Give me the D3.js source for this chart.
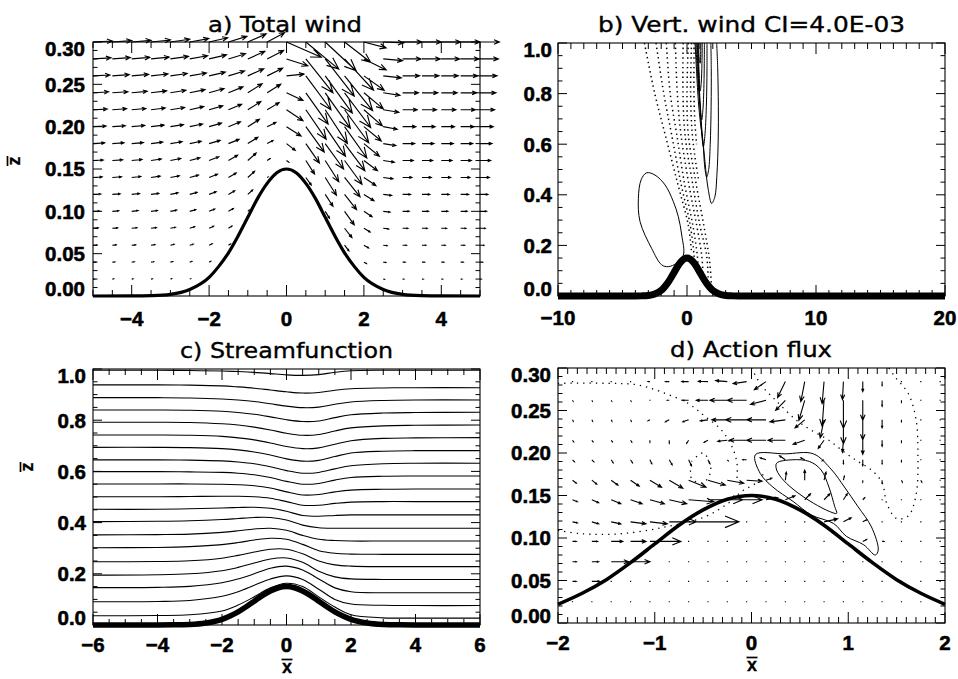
<!DOCTYPE html>
<html><head><meta charset="utf-8">
<script src="https://cdn.jsdelivr.net/npm/d3@7/dist/d3.min.js"></script>
<style>
html,body{margin:0;padding:0;background:#fff;}
svg{display:block;}
.tl{font-family:"Liberation Sans",Arial,sans-serif;font-weight:bold;font-size:20.5px;fill:#000;stroke:#000;stroke-width:0.55px;}
.tt{font-family:"DejaVu Sans",sans-serif;font-size:21px;fill:#000;stroke:#000;stroke-width:0.35px;}
.al{font-family:"Liberation Sans",Arial,sans-serif;font-weight:bold;font-size:18px;fill:#000;stroke:#000;stroke-width:0.3px;}
</style></head><body>
<svg id="fig" width="958" height="679"></svg>
<script>
// ---------------- DATA ----------------
// terrain profile (x, height)
const terrainX = [-20,-10,-6,-5,-4,-3.5,-3,-2.5,-2,-1.75,-1.5,-1.25,-1,-0.75,-0.5,-0.25,0,0.25,0.5,0.75,1,1.25,1.5,1.75,2,2.5,3,3.5,4,5,6,10,20];
const terrainZ = [0,0,0,0,0.0001,0.0005,0.002,0.0077,0.022,0.035,0.051,0.071,0.093,0.115,0.133,0.1456,0.15,0.1456,0.133,0.115,0.093,0.071,0.051,0.035,0.022,0.0077,0.002,0.0005,0.0001,0,0,0,0];

// panel a: total wind vectors (u in units of column spacing, w in units of row spacing)
const aColX = [-5,-4.5,-4,-3.5,-3,-2.5,-2,-1.5,-1,-0.5,0,0.5,1,1.5,2,2.5,3,3.5,4,4.5,5];
const aRowZ = [0.30,0.28,0.26,0.24,0.22,0.20,0.18,0.16,0.14,0.12,0.10,0.08,0.06,0.04,0.02];
const aU = [
 [1.00,1.00,1.00,1.00,1.00,0.98,0.96,0.95,0.95,0.90,1.80,1.70,1.60,1.35,1.15,1.05,1.00,1.00,1.00,1.00,1.00],
 [0.93,0.93,0.93,0.93,0.93,0.92,0.90,0.88,0.88,0.85,1.10,1.40,1.50,1.50,1.15,1.00,0.95,0.95,0.95,0.95,0.95],
 [0.87,0.87,0.87,0.87,0.87,0.86,0.84,0.83,0.82,0.80,0.90,1.30,1.40,1.45,1.05,0.93,0.88,0.88,0.88,0.88,0.88],
 [0.80,0.80,0.80,0.80,0.80,0.79,0.77,0.75,0.74,0.70,0.85,1.15,1.30,1.35,1.00,0.86,0.82,0.82,0.82,0.82,0.82],
 [0.73,0.73,0.73,0.73,0.73,0.72,0.70,0.68,0.67,0.62,0.85,1.05,1.15,1.25,0.95,0.80,0.75,0.75,0.75,0.75,0.75],
 [0.67,0.67,0.67,0.67,0.67,0.66,0.64,0.62,0.60,0.45,0.75,0.95,1.05,1.15,0.90,0.72,0.68,0.68,0.68,0.68,0.68],
 [0.60,0.60,0.60,0.60,0.60,0.59,0.57,0.55,0.52,0.30,0.45,0.70,0.95,1.05,0.80,0.65,0.62,0.62,0.62,0.62,0.62],
 [0.53,0.53,0.53,0.53,0.53,0.52,0.50,0.47,0.43,0.15,0.12,0.45,0.70,0.90,0.70,0.57,0.55,0.55,0.55,0.55,0.55],
 [0.47,0.47,0.47,0.47,0.46,0.45,0.43,0.40,0.35,0.05,null,0.28,0.58,0.80,0.62,0.50,0.48,0.48,0.48,0.48,0.48],
 [0.40,0.40,0.40,0.40,0.39,0.38,0.36,0.32,0.25,null,null,null,0.40,0.62,0.52,0.43,0.41,0.41,0.41,0.41,0.41],
 [0.33,0.33,0.33,0.33,0.32,0.31,0.29,0.25,0.08,null,null,null,0.22,0.50,0.42,0.35,0.34,0.34,0.34,0.34,0.34],
 [0.27,0.27,0.27,0.27,0.26,0.25,0.23,0.18,null,null,null,null,null,0.38,0.32,0.28,0.27,0.27,0.27,0.27,0.27],
 [0.20,0.20,0.20,0.20,0.19,0.18,0.16,0.10,null,null,null,null,null,0.22,0.24,0.20,0.20,0.20,0.20,0.20,0.20],
 [0.13,0.13,0.13,0.13,0.12,0.11,0.09,null,null,null,null,null,null,null,0.13,0.13,0.13,0.13,0.13,0.13,0.13],
 [0.07,0.07,0.07,0.07,0.06,0.05,null,null,null,null,null,null,null,null,null,0.06,0.07,0.07,0.07,0.07,0.07]
];
const aW = [
 [0.06,0.08,0.10,0.12,0.16,0.20,0.25,0.33,0.48,0.55,-0.90,-1.60,-1.70,-1.20,-0.35,-0.05,0,0,0,0,0],
 [0.06,0.08,0.09,0.11,0.15,0.19,0.24,0.31,0.45,0.50,-0.40,-2.00,-2.20,-1.85,-0.65,-0.10,0,0,0,0,0],
 [0.05,0.07,0.09,0.11,0.14,0.17,0.22,0.29,0.42,0.45,0.10,-2.00,-2.20,-2.05,-0.85,-0.12,0,0,0,0,0],
 [0.05,0.06,0.08,0.11,0.15,0.19,0.25,0.35,0.53,0.50,-0.45,-1.85,-2.10,-2.05,-0.95,-0.15,0,0,0,0,0],
 [0.04,0.06,0.07,0.10,0.13,0.18,0.23,0.32,0.48,0.42,-0.65,-1.75,-2.00,-1.95,-0.95,-0.15,0,0,0,0,0],
 [0.04,0.05,0.07,0.09,0.12,0.16,0.21,0.29,0.43,0.25,-0.55,-1.50,-1.75,-1.85,-0.85,-0.15,0,0,0,0,0],
 [0.04,0.05,0.06,0.09,0.11,0.14,0.19,0.25,0.37,0.18,-0.40,-1.15,-1.50,-1.60,-0.75,-0.12,0,0,0,0,0],
 [0.03,0.04,0.06,0.09,0.12,0.16,0.22,0.31,0.44,0.12,-0.10,-0.80,-1.25,-1.40,-0.60,-0.10,0,0,0,0,0],
 [0.03,0.04,0.06,0.08,0.10,0.14,0.19,0.26,0.36,0.03,null,-0.45,-1.05,-1.15,-0.48,-0.08,0,0,0,0,0],
 [0.02,0.03,0.05,0.06,0.09,0.12,0.16,0.21,0.26,null,null,null,-0.70,-0.90,-0.37,-0.06,0,0,0,0,0],
 [0.02,0.03,0.04,0.05,0.07,0.10,0.13,0.17,0.08,null,null,null,-0.40,-0.80,-0.32,-0.05,0,0,0,0,0],
 [0.02,0.02,0.03,0.04,0.06,0.09,0.12,0.13,null,null,null,null,null,-0.55,-0.22,-0.04,0,0,0,0,0],
 [0.01,0.02,0.02,0.03,0.05,0.06,0.09,0.07,null,null,null,null,null,-0.33,-0.16,-0.03,0,0,0,0,0],
 [0.01,0.01,0.02,0.02,0.03,0.04,0.05,null,null,null,null,null,null,null,-0.08,-0.02,0,0,0,0,0],
 [0,0.01,0.01,0.01,0.02,0.02,null,null,null,null,null,null,null,null,null,-0.01,0,0,0,0,0]
];

// panel b: vertical wind contours (x, z)
const bSolid = [
 [[-3.13,0.487],[-2.48,0.478],[-1.7,0.439],[-1.06,0.373],[-0.67,0.313],[-0.41,0.241],[-0.28,0.162],[-0.8,0.13],[-1.45,0.116],[-1.96,0.123],[-2.74,0.188],[-3.64,0.294],[-3.77,0.386],[-3.55,0.46]]
];
const bSolidOpen = [
 [[0.62,1.0],[0.75,0.88],[0.88,0.77],[1.05,0.68],[1.26,0.6],[1.45,0.5],[1.65,0.42],[1.91,0.366],[2.15,0.39],[2.32,0.48],[2.42,0.62],[2.43,0.75],[2.38,0.9],[2.3,1.0]],
 [[0.68,1.0],[0.85,0.85],[1.05,0.72],[1.25,0.6],[1.4,0.5],[1.53,0.47],[1.68,0.5],[1.8,0.6],[1.87,0.75],[1.88,0.9],[1.85,1.0]],
 [[0.75,1.0],[0.9,0.85],[1.05,0.72],[1.18,0.62],[1.27,0.59],[1.38,0.63],[1.5,0.75],[1.55,0.9],[1.55,1.0]],
 [[0.8,1.0],[0.93,0.85],[1.05,0.74],[1.14,0.696],[1.24,0.74],[1.32,0.85],[1.35,1.0]],
 [[0.85,1.0],[0.95,0.87],[1.02,0.81],[1.1,0.84],[1.16,0.92],[1.18,1.0]],
 [[0.9,1.0],[0.96,0.93],[1.02,0.92],[1.06,0.96],[1.07,1.0]]
];
const bDotted = [
 [[-3.3,1.0],[-2.5,0.8],[-1.7,0.64],[-0.7,0.44],[0.1,0.28],[0.36,0.17]],
 [[-2.4,1.0],[-1.8,0.8],[-1.2,0.64],[-0.45,0.44],[0.25,0.28],[0.55,0.16],[0.6,0.12]],
 [[-1.6,1.0],[-1.3,0.8],[-0.8,0.64],[-0.18,0.44],[0.45,0.28],[0.8,0.16],[0.88,0.1]],
 [[-0.9,1.0],[-0.75,0.8],[-0.47,0.64],[0.15,0.44],[0.75,0.28],[1.14,0.16],[1.25,0.08]],
 [[-0.3,1.0],[-0.31,0.8],[-0.16,0.64],[0.45,0.44],[1.0,0.28],[1.52,0.16],[1.65,0.06]],
 [[0.1,1.0],[0.0,0.8],[0.1,0.64],[0.72,0.44],[1.3,0.28],[1.75,0.14],[1.91,0.02]],
 [[0.35,1.0],[0.28,0.8],[0.41,0.64],[0.7,0.52],[0.9,0.46]],
 [[0.55,1.0],[0.54,0.8],[0.62,0.68],[0.75,0.6]]
];

// panel c: streamlines, heights at cX
const cX = [-6,-4,-3,-2,-1.5,-1,-0.5,0,0.5,1,1.5,2,3,4,6];
const cLines = [
 [0.036,0.037,0.04,0.055,0.078,0.11,0.145,0.163,0.15,0.11,0.07,0.04,0.028,0.027,0.027],
 [0.091,0.092,0.096,0.112,0.13,0.155,0.18,0.192,0.178,0.14,0.1,0.082,0.077,0.076,0.076],
 [0.146,0.147,0.151,0.165,0.18,0.2,0.222,0.23,0.215,0.18,0.145,0.13,0.126,0.126,0.126],
 [0.195,0.196,0.2,0.212,0.225,0.242,0.258,0.262,0.245,0.21,0.188,0.18,0.178,0.178,0.178],
 [0.247,0.248,0.251,0.261,0.272,0.285,0.296,0.296,0.278,0.25,0.235,0.23,0.228,0.228,0.228],
 [0.302,0.303,0.306,0.314,0.322,0.332,0.339,0.335,0.315,0.29,0.28,0.277,0.276,0.276,0.276],
 [0.352,0.353,0.355,0.362,0.368,0.375,0.378,0.37,0.35,0.335,0.33,0.328,0.328,0.328,0.328],
 [0.404,0.405,0.407,0.412,0.416,0.42,0.42,0.41,0.39,0.38,0.378,0.378,0.378,0.378,0.378],
 [0.452,0.452,0.454,0.457,0.459,0.46,0.456,0.444,0.428,0.425,0.428,0.43,0.43,0.43,0.43],
 [0.501,0.501,0.502,0.503,0.503,0.501,0.495,0.482,0.468,0.468,0.475,0.48,0.482,0.482,0.482],
 [0.551,0.551,0.551,0.55,0.548,0.544,0.535,0.52,0.508,0.51,0.52,0.527,0.53,0.531,0.531],
 [0.599,0.599,0.598,0.596,0.593,0.587,0.576,0.561,0.55,0.553,0.566,0.576,0.581,0.582,0.582],
 [0.645,0.645,0.644,0.641,0.637,0.63,0.618,0.603,0.593,0.596,0.61,0.622,0.63,0.632,0.632],
 [0.694,0.694,0.693,0.689,0.684,0.676,0.664,0.649,0.64,0.643,0.658,0.672,0.679,0.681,0.681],
 [0.742,0.742,0.741,0.737,0.731,0.723,0.711,0.697,0.689,0.692,0.706,0.72,0.729,0.731,0.732],
 [0.792,0.792,0.791,0.786,0.781,0.773,0.762,0.749,0.741,0.744,0.758,0.77,0.778,0.78,0.781],
 [0.84,0.84,0.839,0.835,0.83,0.823,0.813,0.802,0.795,0.797,0.81,0.821,0.828,0.83,0.831],
 [0.888,0.888,0.887,0.883,0.879,0.873,0.864,0.855,0.849,0.851,0.862,0.871,0.877,0.879,0.879],
 [0.938,0.938,0.937,0.934,0.93,0.925,0.918,0.911,0.906,0.908,0.917,0.923,0.926,0.927,0.927],
 [0.995,0.995,0.994,0.992,0.99,0.987,0.982,0.977,0.975,0.978,0.987,0.993,0.995,0.995,0.995]
];

// panel d: action flux vectors (u in units of 0.2, w in units of row spacing)
const dColX = [-1.85,-1.65,-1.45,-1.25,-1.05,-0.85,-0.65,-0.45,-0.25,-0.05,0.15,0.35,0.55,0.75,0.95,1.15,1.35,1.55,1.75,1.95];
const dRowZ = [0.284,0.262,0.239,0.215,0.192,0.168,0.145,0.119,0.096,0.072,0.049,0.025];
const dU = [
 [0,0,0,0,-0.10,-0.20,-0.35,-0.50,-0.60,-0.70,-0.60,-0.40,-0.20,-0.10,-0.05,0,0,0,0,0],
 [0.03,0.03,0.03,0.03,-0.05,-0.10,-0.30,-0.60,-0.90,-1.00,-0.80,-0.50,-0.30,-0.10,0,0,0,0,0,0],
 [0.04,0.04,0.04,0.04,-0.10,-0.20,-0.30,-0.40,-0.80,-1.10,-1.00,-0.80,-0.50,-0.20,0,0,0,0,0,0],
 [0.06,0.06,0.06,0.06,0,0,-0.10,-0.20,-0.50,-0.90,-1.00,-0.90,-0.60,-0.30,-0.05,0,0,0,0,0],
 [0.10,0.10,0.10,0.10,0.10,0.15,0.15,0.10,0.05,-0.20,-0.30,-0.30,-0.20,-0.10,0,0,0,0,0,0],
 [0.20,0.25,0.35,0.45,0.60,0.70,0.90,0.90,0.85,0.80,0.30,0.05,0,0.10,0.05,0,0,0.05,0.05,0],
 [0.25,0.35,0.50,0.60,0.75,0.90,1.30,1.80,1.80,0,0.60,0.50,0.30,0.30,0.20,0.10,0,0,0,0],
 [0.25,0.35,0.50,0.80,0.90,1.40,2.60,0,0,0,0,0,0,0.70,0.40,0.20,0,0,0,0],
 [0.20,0.30,0.60,0.80,1.60,0,0,0,0,0,0,0,0,0,0,0.20,0.10,0,0,0],
 [0.20,0.35,0.90,1.00,0,0,0,0,0,0,0,0,0,0,0,0,0,0,0,0],
 [0.20,0.40,0,0,0,0,0,0,0,0,0,0,0,0,0,0,0,0,0,0],
 [0,0,0,0,0,0,0,0,0,0,0,0,0,0,0,0,0,0,0,0]
];
const dW = [
 [0,0,0,0,0,0,0,0.02,0.05,-0.10,-0.40,-0.80,-1.00,-1.10,-0.90,-0.50,-0.20,0,0,0],
 [-0.05,-0.05,-0.05,-0.05,0,0,0,0,0,0,-0.20,-0.50,-1.00,-1.30,-1.40,-1.00,-0.30,-0.10,0,0],
 [-0.07,-0.07,-0.07,-0.07,-0.05,-0.10,-0.10,-0.05,0,0,0,-0.10,-0.40,-0.90,-1.20,-1.00,-0.40,-0.10,0,0],
 [-0.08,-0.08,-0.08,-0.09,-0.10,-0.15,-0.15,-0.10,-0.05,0,0,0,-0.20,-0.40,-0.60,-0.70,-0.30,-0.10,-0.05,0],
 [-0.10,-0.10,-0.15,-0.15,-0.20,-0.25,-0.30,-0.20,-0.05,0,0.10,0.20,0.10,-0.05,-0.20,-0.30,-0.20,-0.10,-0.05,0],
 [-0.15,-0.20,-0.25,-0.30,-0.35,-0.40,-0.35,-0.25,-0.15,-0.05,0.10,0.40,0.50,0.40,0.20,-0.10,-0.15,-0.10,-0.10,0],
 [-0.10,-0.15,-0.20,-0.20,-0.20,-0.20,-0.10,0,0,0,0.10,0.20,0.30,0.30,0.30,0.10,0,0,0,0],
 [-0.05,-0.10,-0.10,-0.10,-0.10,0,0,0,0,0,0,0,0,0.15,0.20,0.10,0,0,0,0],
 [0,0,0,0,0,0,0,0,0,0,0,0,0,0,0,0.10,0,0,0,0],
 [0,0,0,0,0,0,0,0,0,0,0,0,0,0,0,0,0,0,0,0],
 [0,0,0,0,0,0,0,0,0,0,0,0,0,0,0,0,0,0,0,0],
 [0,0,0,0,0,0,0,0,0,0,0,0,0,0,0,0,0,0,0,0]
];
const dDotted = [
 [[-2,0.282],[-1.5,0.282],[-1.17,0.28],[-0.89,0.27],[-0.65,0.258],[-0.48,0.243],[-0.31,0.227],[-0.2,0.207],[-0.15,0.188],[-0.15,0.17]],
 [[-2,0.109],[-1.76,0.105],[-1.35,0.105],[-0.89,0.113],[-0.48,0.125],[-0.24,0.141],[-0.1,0.155],[0.05,0.165],[0.15,0.18]],
 [[0.0,0.3],[0.1,0.28],[0.25,0.262],[0.45,0.24],[0.6,0.228],[0.8,0.215],[0.97,0.2],[1.1,0.19],[1.24,0.18],[1.35,0.165],[1.4,0.14],[1.5,0.123],[1.62,0.126],[1.7,0.15],[1.72,0.2],[1.7,0.24],[1.62,0.27],[1.48,0.29],[1.42,0.3]],
 [[-0.62,0.19],[-0.5,0.2],[-0.42,0.18],[-0.5,0.165],[-0.62,0.17],[-0.62,0.19]]
];
const dSolid = [
 [[0.04,0.198],[0.35,0.199],[0.64,0.199],[0.83,0.18],[0.96,0.16],[1.1,0.137],[1.24,0.113],[1.31,0.086],[1.28,0.08],[1.16,0.092],[0.98,0.102],[0.85,0.117],[0.62,0.127],[0.43,0.143],[0.22,0.16],[0.09,0.176]],
 [[0.26,0.188],[0.42,0.192],[0.6,0.19],[0.72,0.18],[0.8,0.16],[0.86,0.137],[0.88,0.129],[0.81,0.131],[0.64,0.141],[0.48,0.153],[0.33,0.168],[0.26,0.18]]
];

// axes / titles
const titles = ["a) Total wind","b) Vert. wind CI=4.0E-03","c) Streamfunction","d) Action flux"];
const aXTicks=[-4,-2,0,2,4], aYTicks=[0,0.05,0.10,0.15,0.20,0.25,0.30];
const bXTicks=[-10,0,10,20], bYTicks=[0,0.2,0.4,0.6,0.8,1.0];
const cXTicks=[-6,-4,-2,0,2,4,6], cYTicks=[0,0.2,0.4,0.6,0.8,1.0];
const dXTicks=[-2,-1,0,1,2], dYTicks=[0,0.05,0.10,0.15,0.20,0.25,0.30];

// ---------------- DRAWING ----------------
const svg = d3.select('#fig');
const defs = svg.append('defs');
const fmtInt = v => (v<0?'\u2212':'')+Math.abs(v);

function panel(id, box, xd, yd){
  const x = d3.scaleLinear().domain(xd).range([box[0],box[1]]);
  const y = d3.scaleLinear().domain(yd).range([box[3],box[2]]);
  defs.append('clipPath').attr('id','clip'+id).append('rect')
    .attr('x',box[0]).attr('y',box[2]).attr('width',box[1]-box[0]).attr('height',box[3]-box[2]);
  const g = svg.append('g');
  return {x,y,g,box,id};
}

function frame(p, xt, xStep, yt, yStep, yFmt, ylabRight, xlabBase){
  const {x,y,g,box}=p;
  const fg = g.append('g');
  fg.append('rect').attr('x',box[0]).attr('y',box[2]).attr('width',box[1]-box[0]).attr('height',box[3]-box[2])
    .attr('fill','none').attr('stroke','#000').attr('stroke-width',1.1);
  let d='';
  const xd=x.domain(), yd=y.domain();
  const nx=Math.round((xd[1]-xd[0])/xStep), ny=Math.round((yd[1]-yd[0])/yStep);
  const isMaj=(v,arr)=>arr.some(t=>Math.abs(t-v)<1e-6);
  for(let i=0;i<=nx;i++){
    const v=xd[0]+i*xStep, px=x(v), L=isMaj(v,xt)?11:6;
    d+=`M${px},${box[3]}v${-L}M${px},${box[2]}v${L}`;
  }
  for(let i=0;i<=ny;i++){
    const v=yd[0]+i*yStep, py=y(v), L=isMaj(v,yt)?9:4.5;
    d+=`M${box[0]},${py}h${L}M${box[1]},${py}h${-L}`;
  }
  fg.append('path').attr('d',d).attr('stroke','#000').attr('stroke-width',1).attr('fill','none');
  xt.forEach(v=>{
    fg.append('text').attr('class','tl').attr('x',x(v)).attr('y',xlabBase).attr('text-anchor','middle').text(fmtInt(v));
  });
  yt.forEach((v,i)=>{
    let off=7.3;
    if(i===0) off=0; if(i===yt.length-1) off=14;
    fg.append('text').attr('class','tl').attr('x',ylabRight).attr('y',y(v)+off).attr('text-anchor','end').text(yFmt(v));
  });
}

function title(t, cx, base, w){
  svg.append('text').attr('class','tt').attr('x',cx-w/2).attr('y',base)
    .attr('textLength',w).attr('lengthAdjust','spacingAndGlyphs').text(t);
}

function arrowPath(x0,y0,x1,y1){
  const dx=x1-x0, dy=y1-y0, L=Math.hypot(dx,dy);
  if(L<1.0) return `M${x0-0.6},${y0}h1.2`;
  const r=0.3, a=22.5*Math.PI/180, st=r*Math.sin(a), ct=r*Math.cos(a);
  const h1x=x1-(ct*dx-st*dy), h1y=y1-(ct*dy+st*dx);
  const h2x=x1-(ct*dx+st*dy), h2y=y1-(ct*dy-st*dx);
  return `M${x0},${y0}L${x1},${y1}M${h1x},${h1y}L${x1},${y1}L${h2x},${h2y}`;
}

function terrain(p, sw, x0, x1){
  const pts = terrainX.map((v,i)=>[v,terrainZ[i]]).filter(d=>d[0]>=x0-1e-9&&d[0]<=x1+1e-9);
  p.g.append('path').datum(pts)
    .attr('d',d3.line().x(d=>p.x(d[0])).y(d=>p.y(d[1])).curve(d3.curveMonotoneX))
    .attr('fill','none').attr('stroke','#000').attr('stroke-width',sw).attr('stroke-linejoin','round');
}

// ---- panel a
const pa = panel('a',[93,480,42,296],[-5,5],[0,0.30]);
frame(pa, aXTicks, 0.5, aYTicks, 0.01, v=>v.toFixed(2), 85, 326);
terrain(pa, 3.2, -5, 5);
{
  let d='';
  aRowZ.forEach((z,r)=>aColX.forEach((xv,c)=>{
    const u=aU[r][c], w=aW[r][c];
    if(u===null) return;
    d+=arrowPath(pa.x(xv),pa.y(z),pa.x(xv+u*0.5),pa.y(z+w*0.02));
  }));
  pa.g.append('path').attr('d',d).attr('fill','none').attr('stroke','#000').attr('stroke-width',1.15);
}
title(titles[0],285,32,154);

// ---- panel b
const pb = panel('b',[558,945,43,296],[-10,20],[0,1]);
{
  const cg = pb.g.append('g').attr('clip-path','url(#clipb)');
  const ln = d3.line().x(d=>pb.x(d[0])).y(d=>pb.y(d[1]));
  bSolid.forEach(s=>cg.append('path').datum(s).attr('d',ln.curve(d3.curveCatmullRomClosed.alpha(0.5))).attr('fill','none').attr('stroke','#000').attr('stroke-width',1));
  bSolidOpen.forEach(s=>cg.append('path').datum(s).attr('d',ln.curve(d3.curveCatmullRom.alpha(0.5))).attr('fill','none').attr('stroke','#000').attr('stroke-width',1));
  bDotted.forEach(s=>cg.append('path').datum(s).attr('d',ln.curve(d3.curveCatmullRom.alpha(0.5))).attr('fill','none').attr('stroke','#000').attr('stroke-width',1.5).attr('stroke-dasharray','1.4,3.4'));
}
frame(pb, bXTicks, 1, bYTicks, 0.05, v=>v.toFixed(1), 552, 325);
terrain(pb, 7, -10, 20);
title(titles[1],751.5,32,307);

// ---- panel c
const pc = panel('c',[93,480,369,625],[-6,6],[0,1]);
frame(pc, cXTicks, 0.5, cYTicks, 0.05, v=>v.toFixed(1), 86, 652);
{
  const cg = pc.g.append('g').attr('clip-path','url(#clipc)');
  const ln = d3.line().x(d=>pc.x(d[0])).y(d=>pc.y(d[1])).curve(d3.curveCatmullRom.alpha(0.5));
  cLines.forEach(zs=>cg.append('path').datum(cX.map((v,i)=>[v,zs[i]])).attr('d',ln)
    .attr('fill','none').attr('stroke','#000').attr('stroke-width',1.1));
}
terrain(pc, 5.5, -6, 6);
title(titles[2],286.5,358,213);

// ---- panel d
const pd = panel('d',[558,945,368,623],[-2,2],[0,0.30]);
frame(pd, dXTicks, 0.1, dYTicks, 0.01, v=>v.toFixed(2), 551, 650);
{
  const cg = pd.g.append('g').attr('clip-path','url(#clipd)');
  const ln = d3.line().x(d=>pd.x(d[0])).y(d=>pd.y(d[1]));
  dDotted.forEach(s=>cg.append('path').datum(s).attr('d',ln.curve(d3.curveCatmullRom.alpha(0.5))).attr('fill','none').attr('stroke','#000').attr('stroke-width',1.3).attr('stroke-dasharray','1.3,5'));
  dSolid.forEach(s=>cg.append('path').datum(s).attr('d',ln.curve(d3.curveCatmullRomClosed.alpha(0.5))).attr('fill','none').attr('stroke','#000').attr('stroke-width',1));
}
terrain(pd, 3.6, -2, 2);
{
  let d='';
  dRowZ.forEach((z,r)=>dColX.forEach((xv,c)=>{
    d+=arrowPath(pd.x(xv),pd.y(z),pd.x(xv+dU[r][c]*0.2),pd.y(z+dW[r][c]*0.0235));
  }));
  pd.g.append('path').attr('d',d).attr('fill','none').attr('stroke','#000').attr('stroke-width',1.1);
}
title(titles[3],751,357,162);

// ---- axis titles (z-bar, x-bar)
function zbar(cx,cy){
  const g=svg.append('g').attr('transform',`translate(${cx},${cy}) rotate(-90)`);
  g.append('text').attr('class','al').attr('x',0).attr('y',5).attr('text-anchor','middle').text('z');
  g.append('line').attr('x1',-5).attr('x2',5).attr('y1',-7.5).attr('y2',-7.5).attr('stroke','#000').attr('stroke-width',1.7);
}
function xbar(cx,cy){
  const g=svg.append('g').attr('transform',`translate(${cx},${cy})`);
  g.append('text').attr('class','al').attr('x',0).attr('y',8).attr('text-anchor','middle').text('x');
  g.append('line').attr('x1',-5.5).attr('x2',5.5).attr('y1',-5.5).attr('y2',-5.5).attr('stroke','#000').attr('stroke-width',1.7);
}
zbar(15,161); zbar(28,467);
xbar(287,665); xbar(752,663);
</script></body></html>
